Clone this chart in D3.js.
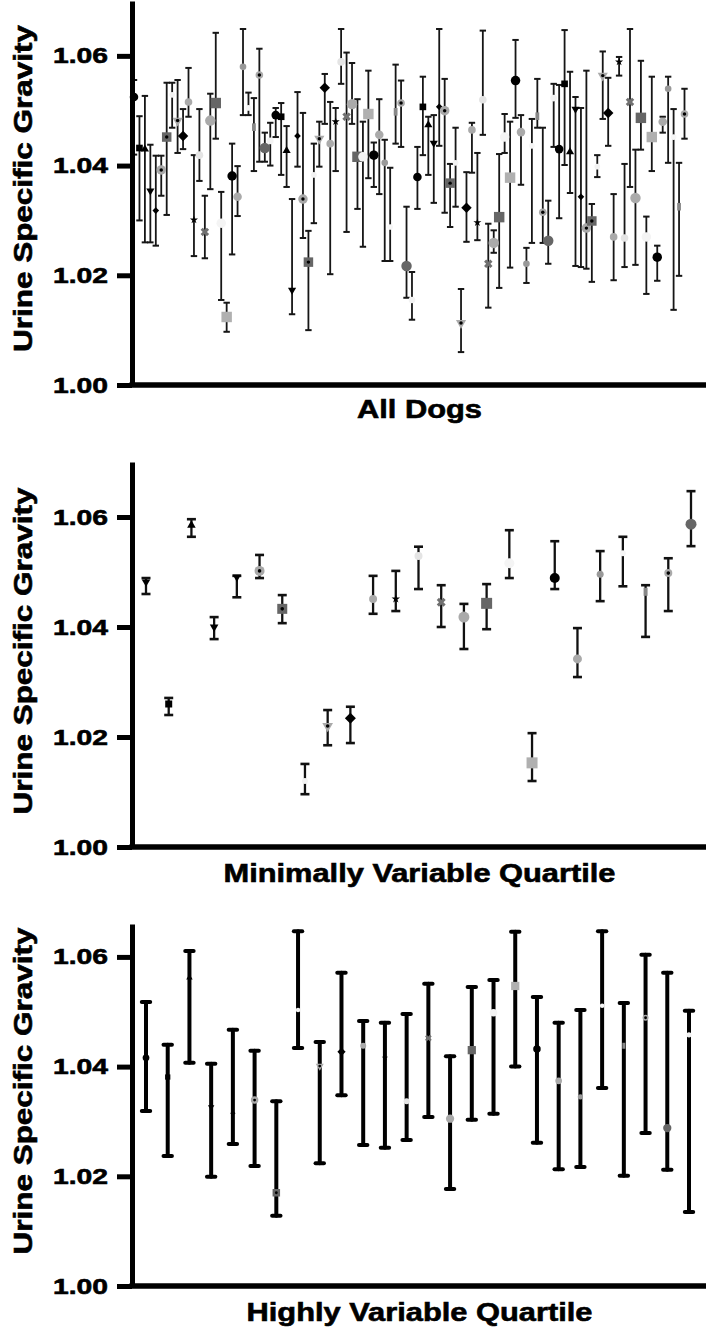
<!DOCTYPE html>
<html>
<head>
<meta charset="utf-8">
<script src="https://cdn.jsdelivr.net/npm/d3@7"></script>
<style>
  html, body { margin: 0; padding: 0; background: #fff; }
  svg { display: block; }
  text { font-family: "Liberation Sans", Arial, Helvetica, sans-serif; font-weight: bold; fill: #000; stroke: #000; stroke-width: 0.6px; }
</style>
</head>
<body>
<script>
// ---------------- DATA ----------------
const yTickValues = [1.00, 1.02, 1.04, 1.06];
const yAxisTitle = "Urine Specific Gravity";
const panelTitles = ["All Dogs", "Minimally Variable Quartile", "Highly Variable Quartile"];

// All dogs (102)
const allMean = [1.0525,1.0432,1.0430,1.0354,1.0318,1.0392,1.0452,1.0529,1.0482,1.0454,
  1.0516,1.0301,1.0419,1.0279,1.0482,1.0514,1.0295,1.0124,1.0381,1.0343,
  1.0580,1.0505,1.0470,1.0565,1.0432,1.0445,1.0492,1.0489,1.0427,1.0173,
  1.0454,1.0339,1.0224,1.0383,1.0449,1.0542,1.0440,1.0480,1.0589,1.0489,
  1.0512,1.0416,1.0416,1.0494,1.0419,1.0456,1.0405,1.0288,1.0498,1.0514,
  1.0217,1.0155,1.0379,1.0507,1.0474,1.0441,1.0507,1.0500,1.0368,1.0405,
  1.0113,1.0323,1.0465,1.0296,1.0520,1.0221,1.0259,1.0306,1.0452,1.0378,
  1.0555,1.0461,1.0221,1.0436,1.0490,1.0315,1.0263,1.0523,1.0430,1.0549,
  1.0425,1.0503,1.0343,1.0286,1.0299,1.0398,1.0564,1.0496,1.0270,1.0589,
  1.0268,1.0516,1.0341,1.0487,1.0270,1.0452,1.0233,1.0480,1.0540,1.0452,
  1.0325,1.0494];
const allHigh = [1.0556,1.0490,1.0527,1.0438,1.0418,1.0418,1.0551,1.0551,1.0556,1.0503,
  1.0578,1.0419,1.0503,1.0345,1.0531,1.0642,1.0352,1.0150,1.0440,1.0399,
  1.0649,1.0533,1.0523,1.0613,1.0460,1.0478,1.0505,1.0514,1.0472,1.0339,
  1.0534,1.0496,1.0281,1.0440,1.0480,1.0567,1.0516,1.0505,1.0649,1.0606,
  1.0587,1.0521,1.0480,1.0573,1.0442,1.0521,1.0447,1.0396,1.0584,1.0555,
  1.0325,1.0206,1.0434,1.0562,1.0489,1.0492,1.0649,1.0558,1.0403,1.0469,
  1.0175,1.0388,1.0478,1.0423,1.0646,1.0294,1.0282,1.0421,1.0494,1.0480,
  1.0629,1.0492,1.0250,1.0485,1.0558,1.0469,1.0336,1.0549,1.0547,1.0647,
  1.0571,1.0525,1.0505,1.0573,1.0330,1.0419,1.0608,1.0560,1.0348,1.0598,
  1.0403,1.0649,1.0429,1.0591,1.0307,1.0562,1.0254,1.0489,1.0562,1.0503,
  1.0405,1.0540];
const allLow = [1.0420,1.0300,1.0260,1.0260,1.0254,1.0345,1.0310,1.0469,1.0423,1.0430,
  1.0489,1.0235,1.0372,1.0231,1.0357,1.0449,1.0155,1.0097,1.0238,1.0308,
  1.0492,1.0492,1.0390,1.0407,1.0407,1.0400,1.0452,1.0383,1.0361,1.0129,
  1.0398,1.0268,1.0100,1.0295,1.0398,1.0476,1.0202,1.0390,1.0549,1.0279,
  1.0476,1.0321,1.0252,1.0377,1.0361,1.0348,1.0226,1.0226,1.0440,1.0434,
  1.0159,1.0119,1.0321,1.0419,1.0383,1.0332,1.0436,1.0314,1.0288,1.0325,
  1.0060,1.0261,1.0387,1.0264,1.0456,1.0141,1.0241,1.0177,1.0423,1.0214,
  1.0487,1.0365,1.0186,1.0259,1.0469,1.0259,1.0221,1.0434,1.0304,1.0401,
  1.0350,1.0217,1.0215,1.0212,1.0188,1.0379,1.0485,1.0436,1.0191,1.0564,
  1.0215,1.0361,1.0219,1.0429,1.0166,1.0390,1.0190,1.0460,1.0405,1.0137,
  1.0199,1.0449];

// Minimally variable quartile (25)
const minMean = [1.0482,1.0260,1.0585,1.0400,1.0491,1.0502,1.0433,1.0120,1.0220,1.0234,
  1.0451,1.0451,1.0529,1.0445,1.0418,1.0443,1.0516,1.0153,1.0489,1.0342,
  1.0496,1.0534,1.0464,1.0498,1.0587];
const minHigh = [1.0489,1.0271,1.0596,1.0418,1.0493,1.0531,1.0458,1.0151,1.0249,1.0255,
  1.0493,1.0502,1.0546,1.0476,1.0442,1.0478,1.0576,1.0207,1.0556,1.0398,
  1.0538,1.0564,1.0476,1.0525,1.0647];
const minLow = [1.0460,1.0240,1.0564,1.0378,1.0454,1.0489,1.0407,1.0096,1.0185,1.0189,
  1.0424,1.0429,1.0469,1.0400,1.0360,1.0396,1.0489,1.0120,1.0469,1.0309,
  1.0447,1.0474,1.0382,1.0429,1.0547];

// Highly variable quartile (26)
const highMean = [1.0416,1.0381,1.0562,1.0326,1.0315,1.0339,1.0170,1.0503,1.0401,1.0427,
  1.0438,1.0416,1.0337,1.0452,1.0305,1.0430,1.0498,1.0547,1.0432,1.0374,
  1.0345,1.0511,1.0438,1.0489,1.0288,1.0458];
const highHigh = [1.0518,1.0440,1.0611,1.0405,1.0467,1.0429,1.0337,1.0647,1.0445,1.0571,
  1.0483,1.0480,1.0496,1.0551,1.0419,1.0545,1.0558,1.0646,1.0527,1.0480,
  1.0503,1.0647,1.0516,1.0604,1.0571,1.0502];
const highLow = [1.0319,1.0237,1.0407,1.0199,1.0259,1.0219,1.0128,1.0434,1.0224,1.0348,
  1.0257,1.0252,1.0266,1.0308,1.0177,1.0303,1.0314,1.0400,1.0261,1.0213,
  1.0217,1.0361,1.0201,1.0279,1.0212,1.0135];

// ---------------- STYLES ----------------
// GraphPad-like symbol cycle (26 styles)
const SYMBOL_STYLES = [
  {t:'circle', f:'#000', d:9},
  {t:'square', f:'#000', d:7},
  {t:'triUp', f:'#000', d:8},
  {t:'triDown', f:'#000', d:8},
  {t:'diamond', f:'#000', d:7},
  {t:'circle', f:'#a8a8a8', d:10, dot:true},
  {t:'square', f:'#666', d:10, dot:true},
  {t:'circle', f:'#f2f2f2', d:6},
  {t:'triDown', f:'#aaa', d:10, dot:true},
  {t:'diamond', f:'#000', d:11},
  {t:'circle', f:'#aaa', d:8},
  {t:'star', f:'#000', d:8},
  {t:'circle', f:'#e4e4e4', d:8},
  {t:'x', f:'#707070', d:10},
  {t:'circle', f:'#aaa', d:11},
  {t:'square', f:'#666', d:11},
  {t:'circle', f:'#f4f4f4', d:10},
  {t:'square', f:'#b0b0b0', d:11},
  {t:'circle', f:'#000', d:10},
  {t:'circle', f:'#aaa', d:9},
  {t:'circle', f:'#999', d:7},
  {t:'circle', f:'#f6f6f6', d:6},
  {t:'rect', f:'#888', d:8},
  {t:'circle', f:'#aaa', d:8, dot:true},
  {t:'circle', f:'#666', d:11},
  {t:'circle', f:'#f2f2f2', d:7}
];
const minSymbolOrder = [3,1,2,3,3,5,6,7,8,9,10,11,12,13,14,15,16,17,18,19,20,21,22,23,24];

const panels = [
  {mean: allMean, high: allHigh, low: allLow, sym: i => i % 26,
   xRange: [134, 684.5], yDomain: [1.00, 1.07], yRange: [385, 1],
   barW: 1.8, capHalf: 3.2, capW: 2, mScale: 0.95, barColor: "#161616",
   title: panelTitles[0], titleY: 418, titleLen: 125, yTitleC: 188.5},
  {mean: minMean, high: minHigh, low: minLow, sym: i => minSymbolOrder[i],
   xRange: [146, 691], yDomain: [1.00, 1.07], yRange: [847, 462],
   barW: 2.3, capHalf: 4.5, capW: 2.6, mScale: 1.0, barColor: "#111",
   title: panelTitles[1], titleY: 882, titleLen: 392, yTitleC: 651},
  {mean: highMean, high: highHigh, low: highLow, sym: i => i % 26,
   xRange: [146, 689], yDomain: [1.00, 1.066], yRange: [1286, 924],
   barW: 4, capHalf: 4.2, capW: 4, mScale: 0.75, round: true, barColor: "#000",
   title: panelTitles[2], titleY: 1321, titleLen: 346, yTitleC: 1091}
];

const W = 709, H = 1333, AXIS_X = 132, AXIS_END = 706;

const svg = d3.select("body").append("svg").attr("width", W).attr("height", H);

function symbolPath(st, scale) {
  const d = st.d * scale;
  switch (st.t) {
    case 'circle': return {p: d3.symbol(d3.symbolCircle, Math.PI * d * d / 4)(), r: 0};
    case 'square': return {p: d3.symbol(d3.symbolSquare, d * d)(), r: 0};
    case 'triUp': return {p: d3.symbol(d3.symbolTriangle, 0.5 * d * d)(), r: 0};
    case 'triDown': return {p: d3.symbol(d3.symbolTriangle, 0.5 * d * d)(), r: 180};
    case 'diamond': return {p: d3.symbol(d3.symbolSquare, d * d / 2)(), r: 45};
    case 'star': return {p: d3.symbol(d3.symbolStar, 0.35 * d * d)(), r: 0};
    case 'x': return {p: d3.symbol(d3.symbolCross, 0.5 * d * d)(), r: 45};
    case 'rect': return {p: `M${-d*0.25},${-d/2}h${d*0.5}v${d}h${-d*0.5}Z`, r: 0};
  }
}

panels.forEach(pn => {
  const n = pn.mean.length;
  const idx = d3.range(n);
  const x = d3.scalePoint().domain(idx).range(pn.xRange);
  const y = d3.scaleLinear().domain(pn.yDomain).range(pn.yRange);
  const g = svg.append("g");

  // error bars
  const bars = g.append("g").attr("stroke", pn.barColor).attr("fill", "none")
    .attr("stroke-linecap", pn.round ? "round" : "butt");
  bars.selectAll("line.v").data(idx).join("line").attr("class", "v")
    .attr("x1", i => x(i)).attr("x2", i => x(i))
    .attr("y1", i => y(pn.high[i])).attr("y2", i => y(pn.low[i]))
    .attr("stroke-width", pn.barW);
  bars.selectAll("line.ct").data(idx).join("line").attr("class", "ct")
    .attr("x1", i => x(i) - pn.capHalf).attr("x2", i => x(i) + pn.capHalf)
    .attr("y1", i => y(pn.high[i])).attr("y2", i => y(pn.high[i]))
    .attr("stroke-width", pn.capW);
  bars.selectAll("line.cb").data(idx).join("line").attr("class", "cb")
    .attr("x1", i => x(i) - pn.capHalf).attr("x2", i => x(i) + pn.capHalf)
    .attr("y1", i => y(pn.low[i])).attr("y2", i => y(pn.low[i]))
    .attr("stroke-width", pn.capW);

  // markers
  const mk = g.append("g");
  idx.forEach(i => {
    const st = SYMBOL_STYLES[pn.sym(i)];
    const sp = symbolPath(st, pn.mScale);
    const mg = mk.append("g").attr("transform", `translate(${x(i)},${y(pn.mean[i])})`);
    mg.append("path").attr("d", sp.p).attr("fill", st.f)
      .attr("transform", sp.r ? `rotate(${sp.r})` : null);
    if (st.dot) mg.append("circle").attr("r", 1.5 * pn.mScale + 0.3).attr("fill", "#000");
  });

  // y axis
  const ax = g.append("g").attr("transform", `translate(${AXIS_X},0)`)
    .call(d3.axisLeft(y).tickValues(yTickValues).tickFormat(d3.format(".2f"))
      .tickSize(15).tickSizeOuter(0).tickPadding(9));
  ax.select(".domain").attr("stroke", "#000").attr("stroke-width", 5);
  ax.selectAll(".tick line").attr("stroke", "#000").attr("stroke-width", 5);
  ax.selectAll(".tick text").attr("font-size", 22).attr("fill", "#000")
    .attr("font-family", '"Liberation Sans", Arial, sans-serif').attr("font-weight", "bold")
    .attr("textLength", 55).attr("lengthAdjust", "spacingAndGlyphs");

  // x axis (baseline)
  g.append("line").attr("x1", AXIS_X - 2.5).attr("x2", AXIS_END)
    .attr("y1", y(pn.yDomain[0])).attr("y2", y(pn.yDomain[0]))
    .attr("stroke", "#000").attr("stroke-width", 5.5);

  // titles
  g.append("text").attr("x", 419.5).attr("y", pn.titleY).attr("text-anchor", "middle")
    .attr("font-size", 25).attr("textLength", pn.titleLen).attr("lengthAdjust", "spacingAndGlyphs")
    .text(pn.title);
  g.append("text").attr("transform", `translate(32,${pn.yTitleC}) rotate(-90)`)
    .attr("text-anchor", "middle").attr("font-size", 25)
    .attr("textLength", 327).attr("lengthAdjust", "spacingAndGlyphs")
    .text(yAxisTitle);
});
</script>
</body>
</html>
